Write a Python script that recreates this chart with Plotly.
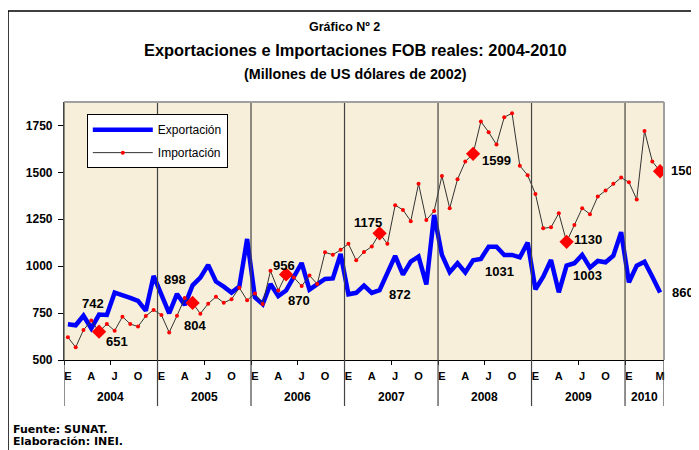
import plotly.graph_objects as go

# ---------------- data ----------------
years = [2004, 2005, 2006, 2007, 2008, 2009, 2010]
months_per_year = [12, 12, 12, 12, 12, 12, 5]
month_letters = ["E", "F", "M", "A", "M", "J", "J", "A", "S", "O", "N", "D"]

exportacion = [
    690, 685, 736, 669, 742, 740, 859, 848, 831, 815, 763, 948,
    845, 749, 852, 793, 898, 939, 1007, 918, 891, 859, 891, 1145,
    834, 797, 905, 841, 870, 941, 1017, 875, 905, 932, 935, 1065,
    850, 858, 897, 858, 872, 962, 1055, 955, 1024, 1051, 903, 1273,
    1060, 968, 1016, 966, 1031, 1039, 1104, 1104, 1060, 1060, 1047, 1126,
    877, 944, 1033, 861, 1003, 1016, 1060, 992, 1028, 1021, 1056, 1181,
    914, 1003, 1024, 944, 860,
]
importacion = [
    621, 568, 660, 710, 651, 692, 656, 731, 692, 678, 735, 767,
    740, 647, 736, 830, 804, 747, 800, 837, 805, 824, 885, 818,
    855, 798, 975, 870, 956, 940, 894, 950, 905, 1074, 1061, 1087,
    1119, 1031, 1076, 1105, 1175, 1119, 1325, 1300, 1240, 1439, 1246, 1294,
    1481, 1309, 1463, 1558, 1599, 1771, 1714, 1648, 1794, 1815, 1535, 1485,
    1385, 1202, 1207, 1282, 1130, 1220, 1309, 1277, 1371, 1403, 1439, 1472,
    1447, 1356, 1721, 1558, 1506,
]
# month index (within year) highlighted each year (May)
highlight_month = 4

y_ticks = [500, 750, 1000, 1250, 1500, 1750]

# ---------------- derived positions ----------------
x = list(range(len(exportacion)))
year_start = []
s = 0
for n in months_per_year:
    year_start.append(s)
    s += n

tickvals, ticktext = [], []
for y0, n in zip(year_start, months_per_year):
    for m in range(n):
        if n == 12:
            show = m % 3 == 0
        else:
            show = m == 0 or m == n - 1
        if show:
            tickvals.append(y0 + m)
            ticktext.append(month_letters[m])

hl_idx = [y0 + highlight_month for y0 in year_start]

FONT = "Liberation Sans, Arial, sans-serif"
FONT2 = "DejaVu Sans, sans-serif"

fig = go.Figure()
fig.add_trace(go.Scatter(
    x=x, y=exportacion, mode="lines", name="Exportación",
    line=dict(color="#0000FF", width=4.5), legendgroup="a",
))
fig.add_trace(go.Scatter(
    x=x, y=importacion, mode="lines+markers", name="Importación",
    line=dict(color="#333333", width=1),
    marker=dict(color="#FF0000", size=4), legendgroup="b",
))
fig.add_trace(go.Scatter(
    x=hl_idx, y=[importacion[i] for i in hl_idx], mode="markers",
    marker=dict(symbol="diamond", color="#FF0000", size=11),
    showlegend=False, hoverinfo="skip",
))

# value labels (offsets in px)
imp_off = [(18, -10), (2, -23), (-2, 9), (-12, 11), (23, -7), (21, 2), (25, 1)]
exp_off = [(-6, 11), (-18, 6), (13, -10), (20, -4), (26, -11), (21, -10), (23, 0)]
ann = []
for k, i in enumerate(hl_idx):
    for series, off in ((importacion, imp_off[k]), (exportacion, exp_off[k])):
        ann.append(dict(
            x=i, y=series[i], xref="x", yref="y", showarrow=False,
            text="<b>%d</b>" % series[i], xshift=off[0], yshift=off[1],
            font=dict(family=FONT, size=13, color="black"),
        ))

# year labels
for yr, y0, n in zip(years, year_start, months_per_year):
    ann.append(dict(
        x=y0 - 0.5 + n / 2, y=-0.143, xref="x", yref="paper", showarrow=False,
        yanchor="middle", text="<b>%d</b>" % yr,
        font=dict(family=FONT, size=12, color="black"),
    ))

# titles and footer
ann += [
    dict(x=0.468, y=1.291, xref="paper", yref="paper", showarrow=False, yanchor="middle",
         text="<b>Gráfico Nº 2</b>", font=dict(family=FONT, size=12.5, color="black")),
    dict(x=0.485, y=1.2016, xref="paper", yref="paper", showarrow=False, yanchor="middle",
         text="<b>Exportaciones e Importaciones FOB reales: 2004-2010</b>",
         font=dict(family=FONT, size=16.4, color="black")),
    dict(x=0.485, y=1.1085, xref="paper", yref="paper", showarrow=False, yanchor="middle",
         text="<b>(Millones de US dólares de 2002)</b>",
         font=dict(family=FONT, size=14.3, color="black")),
    dict(x=-0.088, y=-0.27, xref="paper", yref="paper", showarrow=False,
         xanchor="left", yanchor="middle", text="<b>Fuente: SUNAT.</b>",
         font=dict(family=FONT2, size=11, color="black")),
    dict(x=-0.088, y=-0.315, xref="paper", yref="paper", showarrow=False,
         xanchor="left", yanchor="middle", text="<b>Elaboración: INEI.</b>",
         font=dict(family=FONT2, size=11, color="black")),
]

shapes = []
bottom = -0.178
for y0 in year_start[1:]:
    shapes.append(dict(type="line", xref="x", yref="paper", x0=y0 - 0.5, x1=y0 - 0.5,
                       y0=bottom, y1=1, line=dict(color="#444444", width=1.2)))
shapes.append(dict(type="line", xref="x", yref="paper", x0=-0.5, x1=-0.5,
                   y0=bottom, y1=1, line=dict(color="#444444", width=1.2)))
shapes.append(dict(type="line", xref="x", yref="paper", x0=len(x) - 0.5, x1=len(x) - 0.5,
                   y0=bottom, y1=0, line=dict(color="#444444", width=1.2)))
# plot area top/right border
shapes.append(dict(type="line", xref="paper", yref="paper", x0=0, x1=1, y0=1, y1=1,
                   line=dict(color="#A0A0A0", width=2)))
shapes.append(dict(type="line", xref="paper", yref="paper", x0=1, x1=1, y0=0, y1=1,
                   line=dict(color="#A0A0A0", width=2)))
# outer frame
shapes.append(dict(type="rect", xref="paper", yref="paper", x0=-0.0933, x1=1.08,
                   y0=-0.40, y1=1.3527, line=dict(color="black", width=1.5),
                   fillcolor="rgba(0,0,0,0)", layer="above"))

fig.update_layout(
    width=691, height=442,
    margin=dict(l=56, r=35, t=94, b=90),
    paper_bgcolor="white", plot_bgcolor="#F7EFD9",
    font=dict(family=FONT, color="black"),
    showlegend=True,
    legend=dict(x=0.038, y=0.953, xanchor="left", yanchor="top",
                bgcolor="white", bordercolor="black", borderwidth=1,
                font=dict(family=FONT, size=12), tracegroupgap=4,
                traceorder="grouped", itemwidth=60),
    annotations=ann, shapes=shapes,
    xaxis=dict(range=[-0.5, len(x) - 0.5], tickvals=tickvals, ticktext=ticktext,
               ticks="", showgrid=False, zeroline=False, showline=True,
               linecolor="black", linewidth=1, ticklabelstandoff=6,
               tickfont=dict(family=FONT, size=11, color="black", weight="bold"),
               minor=dict(tick0=-0.5, dtick=6, ticks="outside", ticklen=4,
                          tickcolor="black", showgrid=False)),
    yaxis=dict(range=[500, 1875], tickvals=y_ticks, ticks="outside", ticklen=5,
               tickcolor="black", showgrid=False, zeroline=False, showline=True,
               linecolor="#444444", linewidth=1.2, ticklabelstandoff=3,
               tickfont=dict(family=FONT, size=12, color="black", weight="bold")),
)

fig.write_html("out.html")
